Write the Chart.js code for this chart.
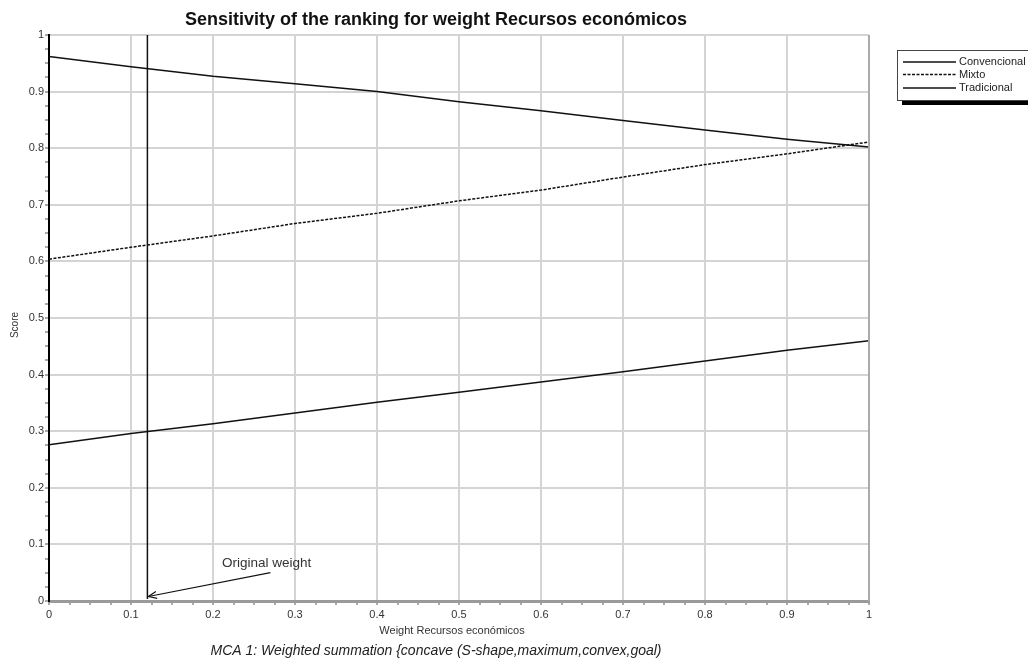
<!DOCTYPE html>
<html>
<head>
<meta charset="utf-8">
<script src="https://cdn.jsdelivr.net/npm/chart.js@4"></script>
<style>
  html, body { margin: 0; padding: 0; background: #fff; }
  #wrap { width: 1028px; height: 664px; }
</style>
</head>
<body>
<div id="wrap"><canvas id="sens"></canvas></div>
<script>
"use strict";

// weight values (x axis)
const weights = [0, 0.1, 0.2, 0.3, 0.4, 0.5, 0.6, 0.7, 0.8, 0.9, 1];
// scores
const convencional = [0.962, 0.944, 0.927, 0.914, 0.900, 0.882, 0.866, 0.849, 0.832, 0.816, 0.802];
const mixto        = [0.604, 0.625, 0.645, 0.667, 0.685, 0.707, 0.726, 0.749, 0.771, 0.790, 0.811];
const tradicional  = [0.276, 0.296, 0.313, 0.332, 0.351, 0.369, 0.387, 0.405, 0.424, 0.443, 0.460];
const seriesNames = ['Convencional', 'Mixto', 'Tradicional'];

const ORIGINAL_WEIGHT = 0.12;
const titleText = 'Sensitivity of the ranking for weight Recursos económicos';
const subTitleText = 'MCA 1: Weighted summation {concave (S-shape,maximum,convex,goal)';
const xTitleText = 'Weight Recursos económicos';
const yTitleText = 'Score';
const annotText = 'Original weight';

const FONT = '"Liberation Sans", Arial, sans-serif';

function toPoints(vals) {
  return vals.map((v, i) => ({ x: weights[i], y: v }));
}
function isMajor(v) {
  return Math.abs(v * 10 - Math.round(v * 10)) < 1e-6;
}

// extra drawing: titles, original weight line + arrow, boxed legend
const decorPlugin = {
  id: 'decor',
  afterDraw(chart) {
    const ctx = chart.ctx;
    const xs = chart.scales.x, ys = chart.scales.y;
    const area = chart.chartArea;
    ctx.save();

    // right frame
    ctx.strokeStyle = '#aaaaaa';
    ctx.lineWidth = 2;
    ctx.beginPath();
    ctx.moveTo(area.right, area.top);
    ctx.lineTo(area.right, area.bottom);
    ctx.stroke();

    // original weight line
    const ox = xs.getPixelForValue(ORIGINAL_WEIGHT);
    ctx.strokeStyle = '#111';
    ctx.lineWidth = 1.5;
    ctx.beginPath();
    ctx.moveTo(ox, area.top);
    ctx.lineTo(ox, area.bottom - 2);
    ctx.stroke();

    // arrow
    const tx = xs.getPixelForValue(0.27), ty = ys.getPixelForValue(0.05);
    const hx = ox + 1, hy = ys.getPixelForValue(0.008);
    ctx.lineWidth = 1.2;
    ctx.beginPath();
    ctx.moveTo(tx, ty);
    ctx.lineTo(hx, hy);
    ctx.stroke();
    const ang = Math.atan2(ty - hy, tx - hx);
    ctx.beginPath();
    ctx.moveTo(hx + 9 * Math.cos(ang - 0.4), hy + 9 * Math.sin(ang - 0.4));
    ctx.lineTo(hx, hy);
    ctx.lineTo(hx + 9 * Math.cos(ang + 0.4), hy + 9 * Math.sin(ang + 0.4));
    ctx.stroke();

    ctx.fillStyle = '#333';
    ctx.font = '13.5px ' + FONT;
    ctx.textAlign = 'left';
    ctx.textBaseline = 'middle';
    ctx.fillText(annotText, xs.getPixelForValue(0.211), ys.getPixelForValue(0.066));

    // title
    ctx.fillStyle = '#111';
    ctx.font = 'bold 18px ' + FONT;
    ctx.textAlign = 'center';
    ctx.fillText(titleText, 436, 20);

    // axis titles
    ctx.fillStyle = '#333';
    ctx.font = '11px ' + FONT;
    ctx.fillText(xTitleText, 452, 631);
    ctx.save();
    ctx.translate(15, 325);
    ctx.rotate(-Math.PI / 2);
    ctx.font = '10px ' + FONT;
    ctx.fillText(yTitleText, 0, 0);
    ctx.restore();

    // subtitle
    ctx.fillStyle = '#222';
    ctx.font = 'italic 14px ' + FONT;
    ctx.fillText(subTitleText, 436, 651);

    // legend box with shadow
    const lx = 897, ly = 50, lw = 140, lh = 50;
    ctx.fillStyle = '#000';
    ctx.fillRect(lx + 5, ly + lh, lw, 5);
    ctx.fillStyle = '#fff';
    ctx.fillRect(lx, ly, lw, lh);
    ctx.strokeStyle = '#444';
    ctx.lineWidth = 1;
    ctx.strokeRect(lx + 0.5, ly + 0.5, lw, lh);
    const rows = [62, 74.5, 88];
    chart.data.datasets.forEach((ds, i) => {
      ctx.strokeStyle = ds.borderColor;
      ctx.lineWidth = 1.3;
      ctx.setLineDash(ds.borderDash || []);
      ctx.beginPath();
      ctx.moveTo(903, rows[i]);
      ctx.lineTo(956, rows[i]);
      ctx.stroke();
      ctx.setLineDash([]);
      ctx.fillStyle = '#222';
      ctx.font = '11px ' + FONT;
      ctx.textAlign = 'left';
      ctx.fillText(ds.label, 959, rows[i]);
    });

    ctx.restore();
  }
};

const lineStyle = {
  borderColor: '#111',
  borderWidth: 1.5,
  pointRadius: 0,
  tension: 0,
  fill: false
};

new Chart(document.getElementById('sens'), {
  type: 'line',
  data: {
    datasets: [
      Object.assign({ label: seriesNames[0], data: toPoints(convencional) }, lineStyle),
      Object.assign({ label: seriesNames[1], data: toPoints(mixto), borderDash: [3, 1.5] }, lineStyle),
      Object.assign({ label: seriesNames[2], data: toPoints(tradicional) }, lineStyle)
    ]
  },
  options: {
    responsive: true,
    maintainAspectRatio: false,
    animation: false,
    layout: { padding: { top: 35, right: 159, left: 0, bottom: 0 } },
    plugins: {
      legend: { display: false },
      title: { display: false },
      tooltip: { enabled: false }
    },
    scales: {
      x: {
        type: 'linear',
        min: 0,
        max: 1,
        afterFit: (s) => { s.height = 63; },
        border: { color: '#9a9a9a', width: 3 },
        grid: {
          color: (c) => (c.tick && isMajor(c.tick.value) ? '#d4d4d4' : 'rgba(0,0,0,0)'),
          lineWidth: 2,
          tickColor: '#555',
          tickWidth: 1,
          tickLength: 4
        },
        ticks: {
          stepSize: 0.025,
          maxTicksLimit: 60,
          autoSkip: false,
          maxRotation: 0,
          padding: 3,
          color: '#333',
          font: { family: FONT, size: 11 },
          callback: (v) => (isMajor(v) ? String(Math.round(v * 10) / 10) : '')
        }
      },
      y: {
        min: 0,
        max: 1,
        afterFit: (s) => { s.width = 49; },
        border: { color: '#000', width: 2 },
        grid: {
          color: (c) => (c.tick && isMajor(c.tick.value) ? '#d4d4d4' : 'rgba(0,0,0,0)'),
          lineWidth: 2,
          tickColor: '#555',
          tickWidth: 1,
          tickLength: 4
        },
        ticks: {
          stepSize: 0.025,
          maxTicksLimit: 60,
          autoSkip: false,
          padding: 1,
          color: '#333',
          font: { family: FONT, size: 11 },
          callback: (v) => (isMajor(v) ? String(Math.round(v * 10) / 10) : '')
        }
      }
    }
  },
  plugins: [decorPlugin]
});
</script>
</body>
</html>
